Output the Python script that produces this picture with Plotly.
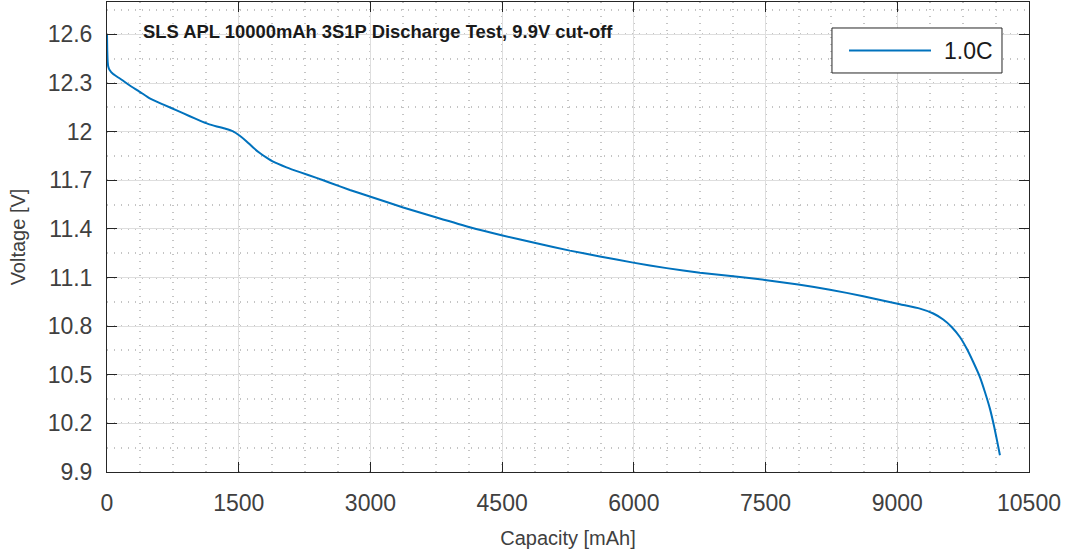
import plotly.graph_objects as go

# Discharge curve at 1.0C: capacity [mAh] vs pack voltage [V]
capacity_mah = [0, 3, 8, 15, 30, 70, 146, 260, 374, 487, 650, 800, 943,
                1057, 1150, 1250, 1350, 1436, 1512, 1590, 1664, 1740, 1817,
                1892, 2044, 2196, 2386, 2538, 2766, 2993, 3373, 3753, 4132,
                4493, 4892, 5271, 5613, 5992, 6373, 6752, 7131, 7492, 7872,
                8233, 8612, 9030, 9258, 9410, 9523, 9619, 9713, 9790, 9865,
                9941, 9998, 10055, 10104, 10143, 10169]
voltage_v = [12.600, 12.500, 12.430, 12.400, 12.380, 12.355, 12.328, 12.285,
             12.246, 12.205, 12.165, 12.130, 12.095, 12.068, 12.048, 12.032,
             12.018, 12.002, 11.975, 11.940, 11.902, 11.868, 11.840, 11.815,
             11.780, 11.750, 11.715, 11.685, 11.640, 11.600, 11.532, 11.470,
             11.410, 11.361, 11.312, 11.266, 11.230, 11.192, 11.158, 11.130,
             11.108, 11.085, 11.057, 11.025, 10.985, 10.935, 10.908, 10.878,
             10.841, 10.795, 10.733, 10.662, 10.579, 10.486, 10.394, 10.291,
             10.178, 10.075, 10.003]

series_name = "1.0C"
chart_title = "SLS APL 10000mAh 3S1P Discharge Test, 9.9V cut-off"
x_ticks = [0, 1500, 3000, 4500, 6000, 7500, 9000, 10500]
x_tick_text = ["0", "1500", "3000", "4500", "6000", "7500", "9000", "10500"]
y_ticks = [9.9, 10.2, 10.5, 10.8, 11.1, 11.4, 11.7, 12.0, 12.3, 12.6]
y_tick_text = ["9.9", "10.2", "10.5", "10.8", "11.1", "11.4", "11.7", "12",
               "12.3", "12.6"]

LINE_BLUE = "#0072BD"
AXIS_DARK = "#262626"
TEXT_GRAY = "#404040"
FONT = "Liberation Sans, Arial, Helvetica, sans-serif"

fig = go.Figure()
fig.add_trace(go.Scatter(
    x=capacity_mah, y=voltage_v, mode="lines", name=series_name,
    line=dict(color=LINE_BLUE, width=2, shape="spline", smoothing=0.5),
    showlegend=False,
))

common_axis = dict(
    showline=True, linecolor=AXIS_DARK, linewidth=1, mirror="ticks",
    ticks="inside", ticklen=10, tickwidth=1, tickcolor=AXIS_DARK,
    showgrid=True, gridcolor="#dedede", gridwidth=1,
    zeroline=False,
    tickfont=dict(family=FONT, size=23, color=TEXT_GRAY),
)

fig.update_xaxes(
    range=[0, 10500], tickvals=x_ticks, ticktext=x_tick_text,
    title=dict(text="Capacity [mAh]", font=dict(family=FONT, size=20,
                                                 color=TEXT_GRAY), standoff=16),
    minor=dict(dtick=375, tick0=0, showgrid=True, gridcolor="#c4c4c4",
               griddash="1px,6px", gridwidth=1.5, ticks=""),
    ticklabelstandoff=10,
    **common_axis,
)
fig.update_yaxes(
    range=[9.9, 12.8], tickvals=y_ticks, ticktext=y_tick_text,
    title=dict(text="Voltage [V]", font=dict(family=FONT, size=20,
                                             color=TEXT_GRAY), standoff=16),
    minor=dict(dtick=0.15, tick0=9.9, showgrid=True, gridcolor="#c4c4c4",
               griddash="1px,6px", gridwidth=1.5, ticks=""),
    ticklabelstandoff=9,
    **common_axis,
)

# Title drawn inside the axes, top-left
fig.add_annotation(
    x=0.037, y=0.937, xref="paper", yref="paper", xanchor="left",
    yanchor="middle", text="<b>" + chart_title + "</b>", showarrow=False,
    font=dict(family=FONT, size=18.4, color="#1a1a1a"),
)

# Legend box with a long line sample
fig.add_shape(type="rect", xref="paper", yref="paper",
              x0=0.7863, x1=0.9707, y0=0.849, y1=0.9447,
              line=dict(color=AXIS_DARK, width=1), fillcolor="white",
              layer="above")
fig.add_shape(type="line", xref="paper", yref="paper",
              x0=0.8048, x1=0.8937, y0=0.8968, y1=0.8968,
              line=dict(color=LINE_BLUE, width=2), layer="above")
fig.add_annotation(
    x=0.9056, y=0.8968, xref="paper", yref="paper", xanchor="left",
    yanchor="middle", text=series_name, showarrow=False,
    font=dict(family=FONT, size=23, color="#1a1a1a"),
)

fig.update_layout(
    width=1069, height=556,
    margin=dict(l=107, r=40, t=2, b=84),
    plot_bgcolor="white", paper_bgcolor="white",
    font=dict(family=FONT),
)

fig.write_html("out.html")
